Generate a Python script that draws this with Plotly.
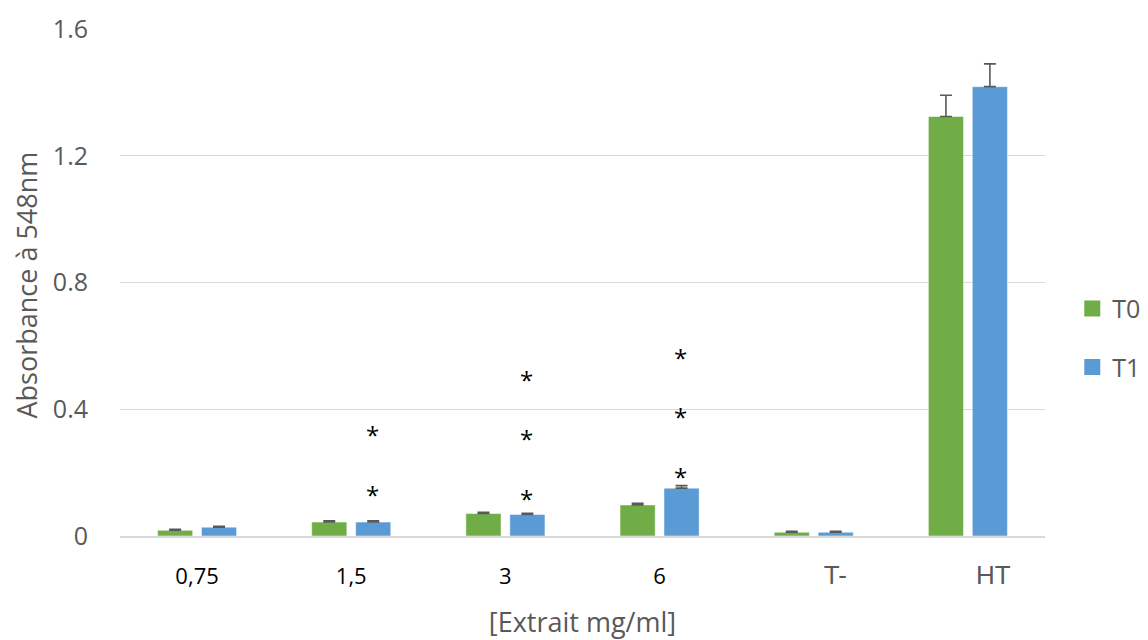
import plotly.graph_objects as go

categories = ["0,75", "1,5", "3", "6", "T-", "HT"]
t0_values = [0.018, 0.044, 0.071, 0.098, 0.012, 1.324]
t0_errors = [0.003, 0.004, 0.004, 0.005, 0.003, 0.067]
t1_values = [0.028, 0.044, 0.068, 0.151, 0.012, 1.418]
t1_errors = [0.003, 0.004, 0.004, 0.008, 0.003, 0.072]

# asterisk annotations over the T1 bars: (category, y value)
star_positions = [("1,5", 0.131), ("1,5", 0.320),
                  ("3", 0.118), ("3", 0.308), ("3", 0.494),
                  ("6", 0.188), ("6", 0.377), ("6", 0.563)]

y_ticks = [0, 0.4, 0.8, 1.2, 1.6]
y_tick_labels = ["0", "0.4", "0.8", "1.2", "1.6"]
y_title = "Absorbance à 548nm"
x_title = "[Extrait mg/ml]"

GREEN = "#70AD47"
BLUE = "#5B9BD5"
ERR = "#595959"
GRAY = "#595959"
FONT = "Open Sans"


def tick_label(cat):
    if cat in ("T-", "HT"):
        pad = "\u00a0" * (6 if cat == "T-" else 7)
        return ("<span style='font-family:Liberation Sans;font-size:26px;color:%s'>%s%s</span>"
                % (GRAY, pad, cat))
    return cat


fig = go.Figure()
for name, vals, errs, col in [("T0", t0_values, t0_errors, GREEN),
                              ("T1", t1_values, t1_errors, BLUE)]:
    fig.add_trace(go.Bar(
        x=categories, y=vals, name=name, showlegend=False,
        marker=dict(color=col, line=dict(color="rgba(255,255,255,0.5)", width=1)),
        error_y=dict(type="data", array=errs, arrayminus=[0] * len(errs),
                     symmetric=False, color=ERR, thickness=1.6, width=6),
    ))

# legend entries with larger square swatches
for name, col, lg in [("T0", GREEN, "legend"), ("T1", BLUE, "legend2")]:
    fig.add_trace(go.Scatter(
        x=[None], y=[None], mode="markers", name=name, legend=lg,
        marker=dict(symbol="square", size=18, color=col),
    ))

for cat, yv in star_positions:
    fig.add_annotation(x=categories.index(cat), y=yv, xref="x", yref="y", text="*",
                       showarrow=False, xshift=21, yshift=0,
                       font=dict(family=FONT, size=24, color="#000000"))

# y-axis title as a rotated annotation (so it can sit close to the edge)
fig.add_annotation(x=-0.1016, y=0.5, xref="paper", yref="paper", text=y_title,
                   textangle=-90, showarrow=False, xanchor="center", yanchor="middle",
                   yshift=-3, font=dict(family=FONT, size=27, color=GRAY))

fig.update_layout(
    width=1140, height=632,
    margin=dict(l=112, r=103, t=21, b=104, autoexpand=False),
    plot_bgcolor="white", paper_bgcolor="white",
    bargap=0.43, bargroupgap=0.2, barmode="group",
    font=dict(family=FONT, color=GRAY),
    legend=dict(x=1.0295, y=0.448, xanchor="left", yanchor="middle",
                font=dict(size=25, color=GRAY), itemwidth=30,
                bgcolor="rgba(0,0,0,0)"),
    legend2=dict(x=1.0295, y=0.333, xanchor="left", yanchor="middle",
                 font=dict(size=25, color=GRAY), itemwidth=30,
                 bgcolor="rgba(0,0,0,0)"),
    xaxis=dict(
        type="category", categoryorder="array", categoryarray=categories,
        range=[-0.5, len(categories) - 0.5],
        tickvals=categories, ticktext=[tick_label(c) for c in categories],
        tickfont=dict(size=22, color="#000000", family=FONT),
        showline=True, linecolor="#D9D9D9", linewidth=1.5,
        ticks="", ticklabelstandoff=20, automargin=False,
        title=dict(text=x_title, font=dict(size=27, color=GRAY), standoff=25),
    ),
    yaxis=dict(
        range=[0, 1.6], tickvals=y_ticks, ticktext=y_tick_labels,
        tickfont=dict(size=25, color=GRAY),
        showgrid=True, gridcolor="#D9D9D9", gridwidth=1,
        zeroline=False, ticks="", ticklabelstandoff=31, automargin=False,
    ),
)

fig.write_html("out.html")
